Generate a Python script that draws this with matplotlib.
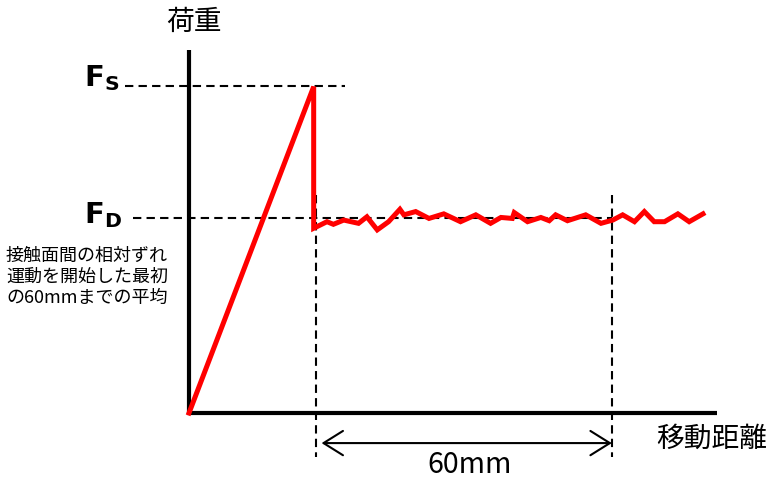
import matplotlib
matplotlib.use("Agg")
import matplotlib.pyplot as plt

plt.rcParams['font.family'] = ['Noto Sans CJK JP', 'DejaVu Sans']
plt.rcParams['mathtext.fontset'] = 'dejavusans'

# Load curve: distance [mm] vs load (static peak = 100)
ramp_x = [0, 25.3, 25.3]
ramp_y = [0, 99.8, 56.5]
slide_x = [28.0, 29.3, 31.4, 34.4, 36.1, 38.2, 40.5, 42.8, 43.6, 46.0, 48.7,
           51.7, 55.1, 58.2, 61.2, 63.3, 65.6, 66.0, 68.7, 71.4, 73.1, 74.4,
           76.8, 80.5, 83.6, 86.0, 88.0, 90.4, 92.4, 94.4, 96.5, 99.2, 101.5, 104.3]
slide_y = [58.5, 57.7, 59.0, 58.0, 60.0, 56.0, 58.5, 62.3, 60.6, 61.6, 59.5,
           60.9, 58.5, 60.6, 58.0, 59.8, 59.5, 61.3, 58.5, 59.8, 58.8, 60.6,
           58.8, 60.6, 58.0, 59.0, 60.6, 58.5, 61.6, 58.5, 58.5, 60.9, 58.5, 60.9]

FS = 100.0
FD = 59.5
slip_start = 25.8
slip_len = 60.0
slip_end = slip_start + slip_len

# Figure layout in pixels: origin at (189, 413), 4.928 px/mm, 3.27 px/unit
W, H = 771, 479
x0, y0 = 189, 413
sx, sy = 4.928, 3.27

fig = plt.figure(figsize=(W / 100, H / 100), dpi=100)
ax = fig.add_axes([0, 0, 1, 1])
ax.set_xlim(-x0 / sx, (W - x0) / sx)
ax.set_ylim(-(H - y0) / sy, y0 / sy)
ax.axis("off")


def px(x, y):
    # pixel position -> figure fraction
    return x / W, 1 - y / H


dash = dict(color="black", lw=1.5, linestyle=(0, (4, 2.5)))

# guide lines
ax.plot([-13.0, 31.7], [FS, FS], **dash)
ax.plot([-11.4, slip_end], [FD, FD], **dash)
ax.plot([slip_start, slip_start], [66.7, -13.5], **dash)
ax.plot([slip_end, slip_end], [66.7, -13.5], **dash)

# axes
ax.plot([0, 0, 107.1], [111.0, 0, 0], color="black", lw=3,
        solid_joinstyle="miter", solid_capstyle="butt")

# load curve
ax.plot(ramp_x + slide_x, ramp_y + slide_y, color="#ff0000", lw=3.6,
        solid_joinstyle="miter")

# 60mm arrow
ax.annotate("", xy=(slip_start + 1.1, -9.2), xytext=(slip_end, -9.2),
            arrowprops=dict(arrowstyle="<->,head_length=0.4,head_width=0.25",
                            lw=1.5, color="black", mutation_scale=35,
                            shrinkA=0, shrinkB=0))

fig.text(*px(470, 465), "60mm", fontsize=20.5, ha="center", va="center")
fig.text(*px(194, 22), "荷重", fontsize=20, ha="center", va="center")
fig.text(*px(712, 439), "移動距離", fontsize=20, ha="center", va="center")

# F_S, F_D labels
fig.text(*px(84, 78), r"$\mathbf{F}_{\mathbf{S}}$", fontsize=21,
         ha="left", va="center")
fig.text(*px(84, 215), r"$\mathbf{F}_{\mathbf{D}}$", fontsize=21,
         ha="left", va="center")

fig.text(*px(6, 277), "接触面間の相対ずれ\n運動を開始した最初\nの60mmまでの平均",
         fontsize=13, ha="left", va="center", linespacing=1.2)

fig.savefig("out.png", dpi=100)
